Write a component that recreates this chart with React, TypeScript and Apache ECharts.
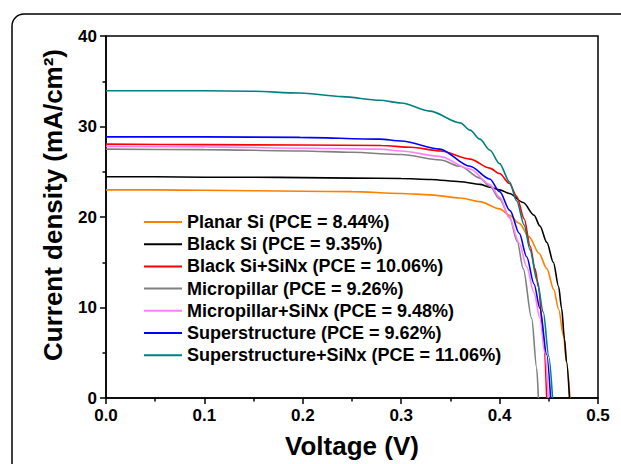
import React, { useEffect, useRef } from "react";
import * as echarts from "echarts";

const seriesNames = [
  "Planar Si (PCE = 8.44%)",
  "Black Si (PCE = 9.35%)",
  "Black Si+SiNx (PCE = 10.06%)",
  "Micropillar (PCE = 9.26%)",
  "Micropillar+SiNx (PCE = 9.48%)",
  "Superstructure (PCE = 9.62%)",
  "Superstructure+SiNx (PCE = 11.06%)",
];
const seriesColors = ["#ff8000", "#000000", "#ff0000", "#808080", "#ff80ff", "#0000ff", "#008080"];

const planarSi = [
  [0, 23.0], [0.05, 23.0], [0.1, 22.95], [0.15, 22.9], [0.2, 22.85], [0.25, 22.8], [0.3, 22.6],
  [0.33, 22.45], [0.36, 22.1], [0.38, 21.7], [0.4, 20.9], [0.41, 20.2], [0.42, 19.3], [0.43, 17.8],
  [0.44, 16.0], [0.448, 14.3], [0.455, 12.0], [0.46, 9.8], [0.465, 6.8], [0.468, 4.0], [0.4715, 0],
];
const blackSi = [
  [0, 24.45], [0.05, 24.45], [0.1, 24.4], [0.15, 24.4], [0.2, 24.35], [0.25, 24.3], [0.3, 24.25],
  [0.33, 24.15], [0.36, 23.9], [0.38, 23.6], [0.39, 23.3], [0.4, 23.0], [0.41, 22.6], [0.424, 21.6],
  [0.435, 20.2], [0.441, 19.0], [0.448, 17.2], [0.4546, 15.0], [0.46, 12.3], [0.463, 9.9],
  [0.466, 6.5], [0.468, 4.0], [0.471, 0],
];
const blackSiSiNx = [
  [0, 28.05], [0.1, 28.0], [0.2, 27.95], [0.28, 27.9], [0.31, 27.7], [0.34, 27.3], [0.37, 26.4],
  [0.39, 25.4], [0.4, 24.8], [0.41, 23.7], [0.4173, 22.3], [0.425, 19.8], [0.431, 16.8],
  [0.436, 14.3], [0.4394, 12.3], [0.4444, 7.0], [0.4479, 0],
];
const micropillar = [
  [0, 27.5], [0.1, 27.45], [0.2, 27.3], [0.25, 27.15], [0.3, 26.9], [0.34, 26.3], [0.36, 25.6],
  [0.38, 24.3], [0.39, 23.4], [0.4, 22.0], [0.41, 20.0], [0.418, 17.3], [0.424, 14.3],
  [0.4326, 8.8], [0.4377, 3.3], [0.4394, 0],
];
const micropillarSiNx = [
  [0, 27.8], [0.1, 27.75], [0.2, 27.6], [0.278, 27.5], [0.3, 27.3], [0.339, 26.7], [0.37, 25.3],
  [0.39, 23.6], [0.4, 22.2], [0.41, 19.9], [0.42, 17.1], [0.4275, 14.5], [0.435, 11.6],
  [0.441, 8.8], [0.446, 5.0], [0.4495, 0],
];
const superstructure = [
  [0, 28.85], [0.1, 28.85], [0.197, 28.8], [0.278, 28.6], [0.3, 28.4], [0.339, 27.5], [0.37, 25.6],
  [0.39, 24.2], [0.4, 22.8], [0.4106, 20.7], [0.42, 18.2], [0.4275, 15.6], [0.435, 12.6],
  [0.441, 9.9], [0.4479, 4.8], [0.4518, 0],
];
const superstructureSiNx = [
  [0, 33.95], [0.05, 33.95], [0.1, 33.95], [0.146, 33.9], [0.197, 33.7], [0.24, 33.3], [0.278, 32.9],
  [0.3, 32.6], [0.329, 31.7], [0.36, 30.4], [0.37, 29.6], [0.38, 28.6], [0.39, 27.4], [0.4, 25.9],
  [0.41, 23.9], [0.4173, 21.8], [0.425, 19.1], [0.4309, 16.4], [0.438, 13.0], [0.4444, 9.5],
  [0.45, 4.6], [0.4538, 0],
];
const seriesData = [planarSi, blackSi, blackSiSiNx, micropillar, micropillarSiNx, superstructure, superstructureSiNx];

const xTicks = { min: 0, max: 0.5, interval: 0.1 };
const yTicks = { min: 0, max: 40, interval: 10 };

const FONT = "Arial, 'Liberation Sans', sans-serif";

export default function App() {
  const ref = useRef<HTMLDivElement>(null);
  useEffect(() => {
    if (!ref.current) return;
    const chart = echarts.init(ref.current, undefined, { renderer: "svg" });
    const axisCommon = {
      axisLine: { show: true, lineStyle: { color: "#000", width: 1.5 } },
      axisTick: { show: true, inside: false, length: 6, lineStyle: { color: "#000", width: 1.5 } },
      minorTick: { show: true, splitNumber: 2, length: 3.5, lineStyle: { color: "#000", width: 1.5 } },
      splitLine: { show: false },
      nameLocation: "middle" as const,
    };
    chart.setOption({
      animation: false,
      backgroundColor: "#fff",
      grid: { left: 106, right: 23, top: 36, bottom: 64, show: true, borderColor: "#000", borderWidth: 1.5 },
      xAxis: {
        type: "value",
        ...xTicks,
        ...axisCommon,
        axisLabel: {
          margin: 9,
          color: "#000",
          fontSize: 17,
          fontWeight: "bold",
          fontFamily: FONT,
          formatter: (v: number) => v.toFixed(1),
        },
        name: "Voltage (V)",
        nameGap: 35,
        nameTextStyle: { color: "#000", fontSize: 26, fontWeight: "bold", fontFamily: FONT },
      },
      yAxis: {
        type: "value",
        ...yTicks,
        ...axisCommon,
        axisLabel: { margin: 9, color: "#000", fontSize: 17, fontWeight: "bold", fontFamily: FONT },
        name: "Current density (mA/cm²)",
        nameGap: 40,
        nameTextStyle: {
          color: "#000",
          fontSize: 26,
          fontWeight: "bold",
          fontFamily: FONT,
          padding: [0, 0, 0, 24],
        },
      },
      legend: {
        orient: "vertical",
        left: 139,
        top: 208,
        icon: "rect",
        itemWidth: 38,
        itemHeight: 2,
        itemGap: 4.2,
        textStyle: { color: "#000", fontSize: 18, fontWeight: "bold", fontFamily: FONT, lineHeight: 18 },
        data: seriesNames,
      },
      graphic: [
        {
          type: "rect",
          shape: { x: 12, y: 14, width: 700, height: 600, r: 12 },
          style: { fill: "none", stroke: "#000", lineWidth: 1.5 },
          silent: true,
        },
      ],
      series: seriesNames.map((name, i) => ({
        name,
        type: "line",
        data: seriesData[i],
        symbol: "none",
        smooth: 0.3,
        smoothMonotone: "x",
        color: seriesColors[i],
        itemStyle: { color: seriesColors[i] },
        lineStyle: { color: seriesColors[i], width: 1.6 },
      })),
    });
    return () => chart.dispose();
  }, []);
  return (
    <div
      ref={ref}
      style={{ position: "fixed", left: 0, top: 0, width: 621, height: 464, background: "#fff" }}
    />
  );
}
